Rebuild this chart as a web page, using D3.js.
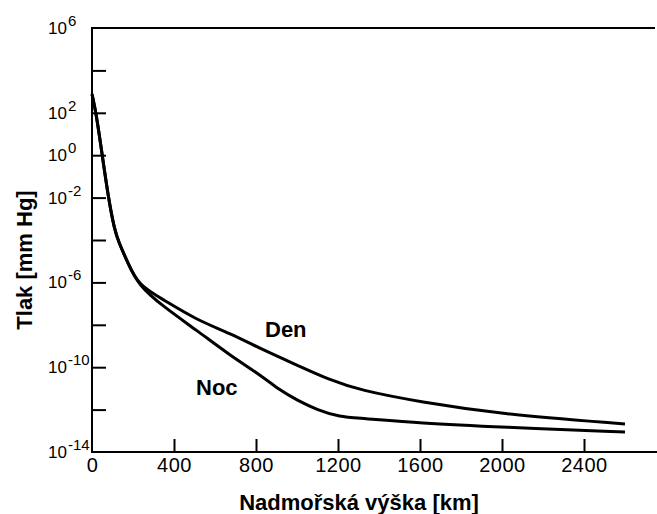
<!DOCTYPE html>
<html>
<head>
<meta charset="utf-8">
<script src="https://cdn.jsdelivr.net/npm/d3@7"></script>
<style>
  html, body { margin: 0; padding: 0; background: #fff; }
  svg { display: block; }
  text { font-family: "Liberation Sans", Arial, sans-serif; fill: #000; }
</style>
</head>
<body>
<svg id="chart" width="657" height="514"></svg>
<script>
// Altitude [km] and pressure [mm Hg]; both curves share the lower part
const sharedAlt = [0, 20, 50, 80, 110, 130, 175, 225];
const sharedP   = [760, 100, 1, 9.5e-3, 3e-4, 8e-5, 8.3e-6, 7.6e-7];

const denAlt = [350, 510, 670, 835, 1000, 1160, 1305, 1600, 1990, 2600];
const denP   = [1.5e-7, 1.7e-8, 4.1e-9, 6.5e-10, 1.26e-10, 2.5e-11, 8.3e-12, 2.3e-12, 6.2e-13, 2.1e-13];

const nocAlt = [350, 510, 670, 835, 915, 1000, 1100, 1210, 1305, 1600, 1990, 2600];
const nocP   = [6.9e-8, 5.6e-9, 3.8e-10, 3.5e-11, 8.3e-12, 2.8e-12, 9.5e-13, 4.5e-13, 4e-13, 2.3e-13, 1.5e-13, 8.7e-14];

// Axis ticks
const xTicks = [400, 800, 1200, 1600, 2000, 2400];
const xTickLabels = ["0", "400", "800", "1200", "1600", "2000", "2400"];
const yTickExps = [4, 2, 0, -2, -4, -6, -8, -10, -12];
const yLabelExps = [6, 2, 0, -2, -6, -10, -14];

const seriesNames = ["Den", "Noc"];
const xTitle = "Nadmořská výška [km]";
const yTitle = "Tlak [mm Hg]";

const svg = d3.select("#chart");

const x = d3.scaleLinear().domain([0, 2750]).range([92, 655.75]);
const y = d3.scaleLog().domain([1e-14, 1e6]).range([452, 28]);

// Frame: left, top and bottom lines
svg.append("line").attr("x1", x(0)).attr("x2", x(0)).attr("y1", y(1e6) - 1).attr("y2", y(1e-14) + 1)
  .attr("stroke", "#000").attr("stroke-width", 2);
svg.append("line").attr("x1", x(0)).attr("x2", 655).attr("y1", y(1e6)).attr("y2", y(1e6))
  .attr("stroke", "#000").attr("stroke-width", 2);
svg.append("line").attr("x1", x(0)).attr("x2", 657).attr("y1", y(1e-14)).attr("y2", y(1e-14))
  .attr("stroke", "#000").attr("stroke-width", 2);

// Bottom axis ticks (inward) and labels
const xAxis = d3.axisBottom(x).tickValues(xTicks).tickSize(-13).tickFormat("");
const gx = svg.append("g").attr("transform", `translate(0,${y(1e-14)})`).call(xAxis);
gx.select(".domain").remove();
gx.selectAll(".tick line").attr("stroke", "#000").attr("stroke-width", 2);

svg.append("g").selectAll("text")
  .data(xTickLabels)
  .join("text")
  .attr("x", d => x(+d) + 0.5)
  .attr("y", 472)
  .attr("text-anchor", "middle")
  .attr("font-size", 20)
  .attr("letter-spacing", "0.5px")
  .text(d => d);

// Left axis ticks (inward)
const yAxis = d3.axisLeft(y).tickValues(yTickExps.map(e => Math.pow(10, e)))
  .tickSize(-14).tickFormat("");
const gy = svg.append("g").attr("transform", `translate(${x(0)},0)`).call(yAxis);
gy.select(".domain").remove();
gy.selectAll(".tick line").attr("stroke", "#000").attr("stroke-width", 2);

// Power-of-ten labels
const yl = svg.append("g").selectAll("text")
  .data(yLabelExps)
  .join("text")
  .attr("x", 48)
  .attr("y", d => y(Math.pow(10, d)) + 6)
  .attr("font-size", 17);
yl.append("tspan").text("10");
yl.append("tspan").attr("dy", -8).attr("dx", 1).attr("font-size", 15).text(d => String(d));

// Curves
const line = d3.line()
  .x(d => x(d[0]))
  .y(d => y(d[1]))
  .curve(d3.curveBasis);

const build = (alt, p) =>
  sharedAlt.map((a, i) => [a, sharedP[i]]).concat(alt.map((a, i) => [a, p[i]]));

const series = [build(denAlt, denP), build(nocAlt, nocP)];

svg.append("g").selectAll("path")
  .data(series)
  .join("path")
  .attr("d", line)
  .attr("fill", "none")
  .attr("stroke", "#000")
  .attr("stroke-width", 3)
  .attr("stroke-linejoin", "round");

// Curve labels
svg.append("text").attr("x", 265).attr("y", 337)
  .attr("font-size", 22).attr("font-weight", "bold").text(seriesNames[0]);
svg.append("text").attr("x", 196).attr("y", 395)
  .attr("font-size", 22).attr("font-weight", "bold").text(seriesNames[1]);

// Axis titles
svg.append("text").attr("x", 359).attr("y", 510)
  .attr("text-anchor", "middle").attr("font-size", 22).attr("font-weight", "bold")
  .text(xTitle);
svg.append("text")
  .attr("transform", "translate(32,260) rotate(-90)")
  .attr("text-anchor", "middle").attr("font-size", 22).attr("font-weight", "bold")
  .text(yTitle);
</script>
</body>
</html>
